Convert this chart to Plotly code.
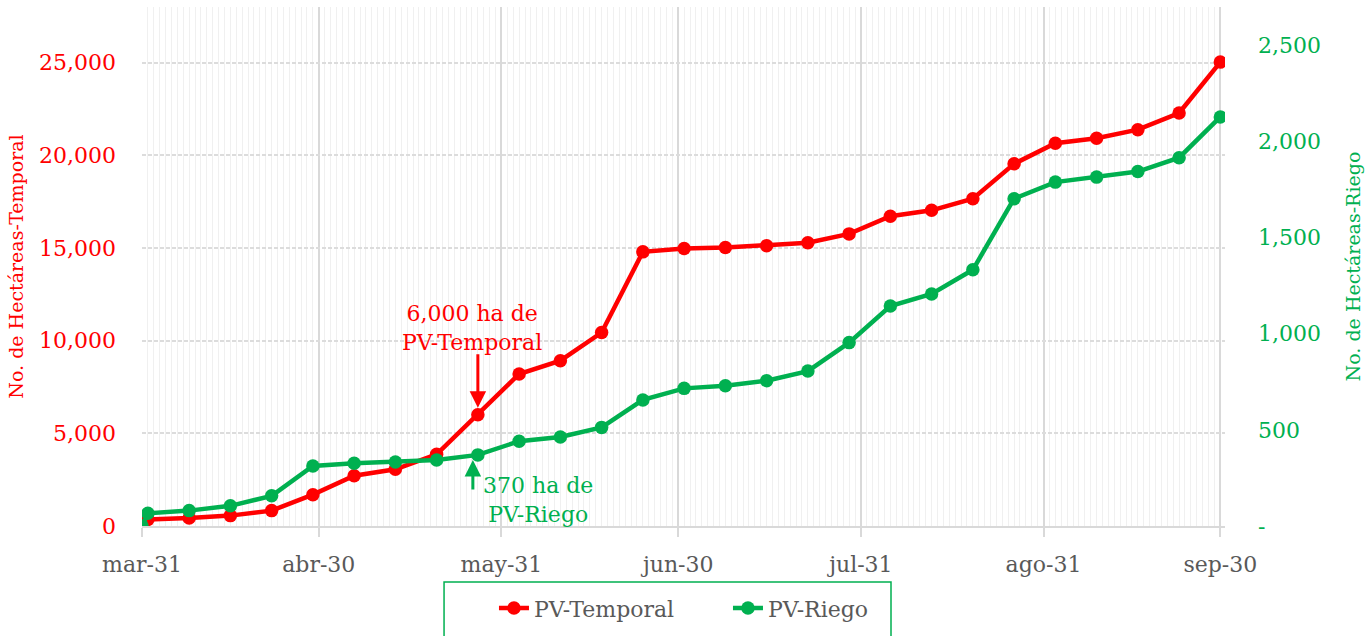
import plotly.graph_objects as go

# ---------------- data ----------------
dates = ["2021-03-31", "2021-04-01", "2021-04-08", "2021-04-15", "2021-04-22", "2021-04-29",
         "2021-05-06", "2021-05-13", "2021-05-20", "2021-05-27", "2021-06-03", "2021-06-10",
         "2021-06-17", "2021-06-24", "2021-07-01", "2021-07-08", "2021-07-15", "2021-07-22",
         "2021-07-29", "2021-08-05", "2021-08-12", "2021-08-19", "2021-08-26", "2021-09-02",
         "2021-09-09", "2021-09-16", "2021-09-23", "2021-09-30"]

pv_temporal = [0, 350, 430, 560, 830, 1690, 2710, 3060, 3870, 6000, 8200, 8920, 10440,
               14790, 14970, 15020, 15120, 15280, 15760, 16710, 17030, 17660, 19540,
               20650, 20920, 21380, 22280, 25030]

pv_riego = [0, 66, 80, 105, 157, 312, 326, 333, 343, 370, 441, 463, 513, 656, 716, 730,
            756, 806, 954, 1144, 1207, 1333, 1703, 1789, 1815, 1844, 1916, 2128]

x_tickvals = ["2021-03-31", "2021-04-30", "2021-05-31", "2021-06-30", "2021-07-31",
              "2021-08-31", "2021-09-30"]
x_ticktext = ["mar-31", "abr-30", "may-31", "jun-30", "jul-31", "ago-31", "sep-30"]

y1_tickvals = [0, 5000, 10000, 15000, 20000, 25000]
y2_tickvals = [0, 500, 1000, 1500, 2000, 2500]
y2_ticktext = ["-", "500", "1,000", "1,500", "2,000", "2,500"]

annot_date = "2021-05-27"
annot_temporal_text = "6,000 ha de<br>PV-Temporal"
annot_temporal_value = 6000
annot_riego_text = "370 ha de<br>PV-Riego"
annot_riego_value = 370

# ---------------- style ----------------
RED = "#FF0000"
GREEN = "#00B050"
GREY_TXT = "#595959"
FONT = "DejaVu Serif"

fig = go.Figure()
fig.add_trace(go.Scatter(
    x=dates, y=pv_temporal, name="PV-Temporal", mode="lines+markers",
    line=dict(color=RED, width=4.5), marker=dict(color=RED, size=13.5),
    yaxis="y"))
fig.add_trace(go.Scatter(
    x=dates, y=pv_riego, name="PV-Riego", mode="lines+markers",
    line=dict(color=GREEN, width=4.5), marker=dict(color=GREEN, size=13.5),
    yaxis="y2"))

fig.update_layout(
    width=1369, height=636,
    margin=dict(l=142, r=144, t=7, b=107),
    plot_bgcolor="white", paper_bgcolor="white",
    font=dict(family=FONT, size=22, color=GREY_TXT),
    showlegend=True,
    legend=dict(orientation="h", x=0.325, xanchor="left", y=-0.118, yanchor="top",
                font=dict(family=FONT, size=22, color=GREY_TXT),
                bgcolor="rgba(0,0,0,0)", borderwidth=0, entrywidth=189,
                entrywidthmode="pixels"),
    xaxis=dict(
        type="date",
        range=["2021-03-31", "2021-09-30 19:00"],
        tickmode="array", tickvals=x_tickvals, ticktext=x_ticktext,
        showgrid=True, gridcolor="#d9d9d9", gridwidth=1.5,
        ticks="outside", ticklen=9, tickcolor="#d9d9d9", tickwidth=1.5,
        showline=True, linecolor="#d9d9d9", linewidth=2,
        tickfont=dict(family=FONT, size=22, color=GREY_TXT),
        ticklabelstandoff=9,
        minor=dict(tickmode="linear", tick0="2021-03-31", dtick=86400000,
                   showgrid=True, gridcolor="#f0f0f0", gridwidth=1, ticks=""),
        zeroline=False,
    ),
    yaxis=dict(
        range=[0, 28000], tickmode="array", tickvals=y1_tickvals, tickformat=",",
        showgrid=True, gridcolor="#dcdcdc", gridwidth=1.5, griddash="4px,2px",
        zeroline=False, showline=False, ticks="",
        tickfont=dict(family=FONT, size=22, color=RED),
        ticklabelstandoff=25,
        title=dict(text="No. de Hectáreas-Temporal", standoff=10,
                   font=dict(family=FONT, size=19, color=RED)),
    ),
    yaxis2=dict(
        range=[0, 2700], overlaying="y", side="right",
        tickmode="array", tickvals=y2_tickvals, ticktext=y2_ticktext,
        showgrid=False, zeroline=False, showline=False, ticks="",
        tickfont=dict(family=FONT, size=22, color=GREEN),
        ticklabelstandoff=32,
        title=dict(text="No. de Hectáreas-Riego", standoff=26,
                   font=dict(family=FONT, size=19, color=GREEN)),
    ),
)

# legend frame (extends past bottom edge as in the reference)
fig.add_shape(type="rect", xref="paper", yref="paper",
              x0=0.2789, x1=0.6916, y0=-0.108, y1=-0.26,
              line=dict(color=GREEN, width=1.5), fillcolor="rgba(0,0,0,0)",
              layer="above")

# annotations
fig.add_annotation(x=annot_date, y=annot_temporal_value, xref="x", yref="y",
                   text="", showarrow=True, ax=0, ay=-62, standoff=7,
                   arrowhead=2, arrowsize=1.1, arrowwidth=3, arrowcolor=RED)
fig.add_annotation(x=annot_date, y=annot_temporal_value, xref="x", yref="y",
                   text=annot_temporal_text, showarrow=False, xshift=-6, yshift=87,
                   font=dict(family=FONT, size=22, color=RED))
fig.add_annotation(x=annot_date, y=annot_riego_value, xref="x", yref="y2",
                   text="", showarrow=True, ax=0, ay=36, standoff=5, xshift=-5,
                   arrowhead=2, arrowsize=1.1, arrowwidth=3, arrowcolor=GREEN)
fig.add_annotation(x=annot_date, y=annot_riego_value, xref="x", yref="y2",
                   text=annot_riego_text, showarrow=False, xshift=60, yshift=-45,
                   font=dict(family=FONT, size=22, color=GREEN))

fig.write_html("out.html",
               config={"displayModeBar": False},
               post_script="document.body.style.margin='0';document.body.style.padding='0';")
